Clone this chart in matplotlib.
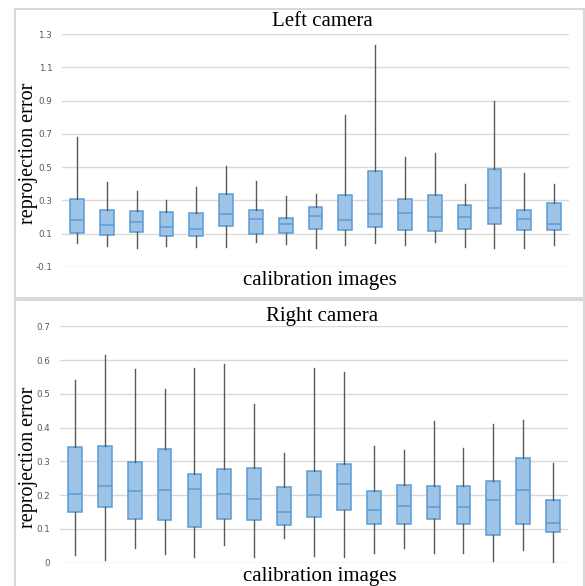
import matplotlib
matplotlib.use("Agg")
import matplotlib.pyplot as plt
from matplotlib.patches import Rectangle

# Left camera: whisker low, Q1, median, Q3, whisker high per calibration image
left_lo = [0.046, 0.026, 0.014, 0.026, 0.018, 0.022, 0.050, 0.038, 0.012,
           0.030, 0.044, 0.030, 0.048, 0.018, 0.016, 0.016, 0.030]
left_q1 = [0.106, 0.094, 0.112, 0.088, 0.088, 0.148, 0.100, 0.106, 0.126,
           0.120, 0.140, 0.124, 0.114, 0.126, 0.160, 0.124, 0.120]
left_med = [0.184, 0.150, 0.172, 0.138, 0.126, 0.218, 0.190, 0.156, 0.208,
            0.184, 0.218, 0.224, 0.200, 0.202, 0.256, 0.188, 0.158]
left_q3 = [0.310, 0.244, 0.236, 0.232, 0.226, 0.336, 0.244, 0.196, 0.262,
           0.334, 0.475, 0.308, 0.332, 0.272, 0.487, 0.244, 0.282]
left_hi = [0.679, 0.408, 0.358, 0.302, 0.382, 0.505, 0.414, 0.324, 0.338,
           0.813, 1.232, 0.563, 0.585, 0.400, 0.899, 0.463, 0.400]

# Right camera
right_lo = [0.024, 0.008, 0.045, 0.027, 0.017, 0.052, 0.016, 0.072, 0.019,
            0.016, 0.028, 0.045, 0.028, 0.028, 0.006, 0.039, 0.003]
right_q1 = [0.149, 0.165, 0.130, 0.125, 0.105, 0.128, 0.125, 0.112, 0.136,
            0.157, 0.114, 0.115, 0.129, 0.115, 0.082, 0.114, 0.090]
right_med = [0.202, 0.228, 0.213, 0.214, 0.217, 0.202, 0.189, 0.149, 0.200,
             0.232, 0.157, 0.169, 0.164, 0.166, 0.185, 0.214, 0.119]
right_q3 = [0.344, 0.346, 0.298, 0.338, 0.263, 0.276, 0.279, 0.223, 0.272,
            0.292, 0.211, 0.229, 0.226, 0.226, 0.241, 0.311, 0.186]
right_hi = [0.542, 0.614, 0.574, 0.513, 0.576, 0.587, 0.469, 0.326, 0.576,
            0.564, 0.347, 0.333, 0.420, 0.339, 0.412, 0.422, 0.294]

left_ticks = [-0.1, 0.1, 0.3, 0.5, 0.7, 0.9, 1.1, 1.3]
right_ticks = [0, 0.1, 0.2, 0.3, 0.4, 0.5, 0.6, 0.7]

W, H = 585, 586
serif = ["Liberation Serif", "DejaVu Serif"]
box_fill = "#9DC3E6"
box_edge = "#5B9BD5"
whisker = "#595959"
grid_col = "#D9D9D9"


def stats(lo, q1, med, q3, hi):
    return [dict(whislo=a, q1=b, med=c, q3=d, whishi=e, fliers=[])
            for a, b, c, d, e in zip(lo, q1, med, q3, hi)]


def draw_panel(ax, st, ticks):
    ax.bxp(st, widths=0.46, showcaps=False, patch_artist=True,
           boxprops=dict(facecolor=box_fill, edgecolor=box_edge, linewidth=1.1),
           medianprops=dict(color=box_edge, linewidth=1.1),
           whiskerprops=dict(color=whisker, linewidth=1.0))
    ax.set_xlim(0.5, len(st) + 0.5)
    ax.set_ylim(ticks[0], ticks[-1])
    ax.set_yticks(ticks)
    ax.set_yticklabels([f"{t:g}" for t in ticks])
    ax.set_xticks([])
    for s in ax.spines.values():
        s.set_visible(False)
    ax.yaxis.grid(True, color=grid_col, linewidth=1.0)
    ax.set_axisbelow(True)
    ax.tick_params(axis="y", length=0, pad=7, labelsize=6.3, labelcolor="#595959")


fig = plt.figure(figsize=(W / 100, H / 100), dpi=100)

# chart-area borders (Excel style)
fig.patches.append(Rectangle((15 / W, 1 - 298 / H), 569 / W, 289 / H,
                             transform=fig.transFigure, fill=False,
                             edgecolor="#D9D9D9", linewidth=1.5))
fig.patches.append(Rectangle((15 / W, 1 - 640 / H), 569 / W, 340 / H,
                             transform=fig.transFigure, fill=False,
                             edgecolor="#D9D9D9", linewidth=1.5, clip_on=False))

ax1 = fig.add_axes([62 / W, 1 - 267 / H, 507 / W, 233 / H])
draw_panel(ax1, stats(left_lo, left_q1, left_med, left_q3, left_hi), left_ticks)

ax2 = fig.add_axes([60 / W, 1 - 562.7 / H, 508 / W, 236.4 / H])
draw_panel(ax2, stats(right_lo, right_q1, right_med, right_q3, right_hi), right_ticks)

fig.text(322 / W, 1 - 21 / H, "Left camera", family=serif, fontsize=15,
         ha="center", va="center")
fig.text(28 / W, 1 - 153 / H, "reprojection error", family=serif, fontsize=14.5,
         rotation=90, ha="center", va="center")
fig.text(320 / W, 1 - 281 / H, "calibration images", family=serif, fontsize=15,
         ha="center", va="center")

fig.text(322 / W, 1 - 316 / H, "Right camera", family=serif, fontsize=15,
         ha="center", va="center")
fig.text(28 / W, 1 - 457 / H, "reprojection error", family=serif, fontsize=14.5,
         rotation=90, ha="center", va="center")
fig.text(320 / W, 1 - 577 / H, "calibration images", family=serif, fontsize=15,
         ha="center", va="center")

fig.savefig("out.png", dpi=100)
